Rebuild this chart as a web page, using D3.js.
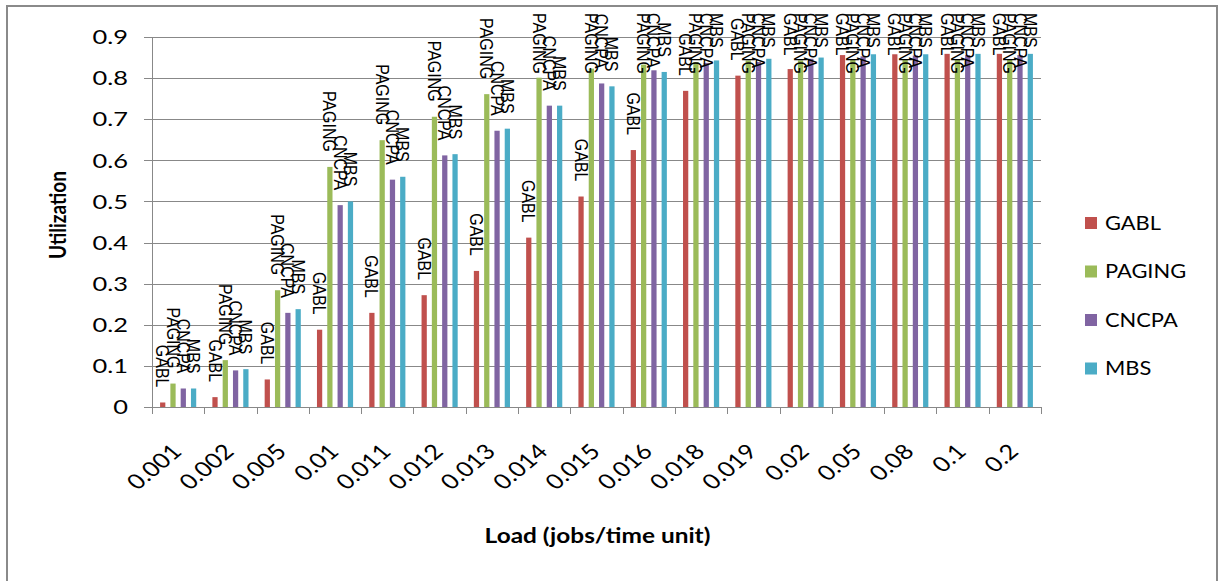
<!DOCTYPE html>
<html>
<head>
<meta charset="utf-8">
<script src="https://cdn.jsdelivr.net/npm/d3@7"></script>
<style>
  html, body { margin: 0; padding: 0; background: #fff; }
  svg { display: block; }
</style>
</head>
<body>
<svg id="chart" width="1219" height="581"></svg>
<script>
// Load levels (x categories)
const loads = ["0.001", "0.002", "0.005", "0.01", "0.011", "0.012", "0.013", "0.014", "0.015",
               "0.016", "0.018", "0.019", "0.02", "0.05", "0.08", "0.1", "0.2"];

// Utilization per scheduling strategy
const seriesNames = ["GABL", "PAGING", "CNCPA", "MBS"];
const gabl   = [0.011, 0.024, 0.067, 0.188, 0.229, 0.272, 0.331, 0.412, 0.512, 0.625, 0.769, 0.806, 0.822, 0.856, 0.858, 0.859, 0.859];
const paging = [0.057, 0.114, 0.284, 0.584, 0.649, 0.706, 0.761, 0.801, 0.823, 0.833, 0.839, 0.843, 0.843, 0.845, 0.845, 0.846, 0.846];
const cncpa  = [0.045, 0.089, 0.229, 0.491, 0.553, 0.612, 0.672, 0.733, 0.787, 0.819, 0.837, 0.839, 0.847, 0.853, 0.855, 0.856, 0.856];
const mbs    = [0.045, 0.092, 0.238, 0.500, 0.560, 0.615, 0.677, 0.733, 0.780, 0.815, 0.843, 0.847, 0.850, 0.858, 0.858, 0.859, 0.859];
const seriesColors = ["#C0504D", "#9BBB59", "#8064A2", "#4BACC6"];

// Y axis ticks
const yTicks = [0, 0.1, 0.2, 0.3, 0.4, 0.5, 0.6, 0.7, 0.8, 0.9];

const values = [gabl, paging, cncpa, mbs];
const rows = loads.map((load, i) => ({
  load,
  vals: seriesNames.map((s, k) => ({ series: s, value: values[k][i], color: seriesColors[k] }))
}));

const svg = d3.select("#chart");
const UI_FONT = "Lato, 'Open Sans', sans-serif";
const SX = 1.15; // horizontal stretch used for chart text

// outer frame
svg.append("rect")
  .attr("x", 7).attr("y", 6).attr("width", 1210).attr("height", 590)
  .attr("fill", "#fff").attr("stroke", "#8a8a8a").attr("stroke-width", 2);

const plot = { left: 152, right: 1041, top: 37, bottom: 407 };

const x = d3.scaleBand().domain(loads).range([plot.left, plot.right]).padding(0);
const xs = d3.scaleBand().domain(seriesNames).range([0, x.bandwidth()])
  .paddingInner(0.49).paddingOuter(0.785);
const y = d3.scaleLinear().domain([0, 0.9]).range([plot.bottom, plot.top]);

// gridlines
svg.append("g")
  .selectAll("line")
  .data(yTicks)
  .join("line")
  .attr("x1", plot.left - 8).attr("x2", plot.right)
  .attr("y1", d => Math.round(y(d)) + 0.5).attr("y2", d => Math.round(y(d)) + 0.5)
  .attr("stroke", "#888").attr("stroke-width", 1);

// y axis line
svg.append("line")
  .attr("x1", plot.left + 0.5).attr("x2", plot.left + 0.5)
  .attr("y1", plot.top).attr("y2", plot.bottom)
  .attr("stroke", "#888");

// x axis ticks at category boundaries
const boundaries = loads.map(d => x(d)).concat([plot.right]);
svg.append("g")
  .selectAll("line")
  .data(boundaries)
  .join("line")
  .attr("x1", d => Math.round(d) + 0.5).attr("x2", d => Math.round(d) + 0.5)
  .attr("y1", plot.bottom).attr("y2", plot.bottom + 7)
  .attr("stroke", "#888");

// y tick labels
svg.append("g")
  .selectAll("text")
  .data(yTicks)
  .join("text")
  .attr("transform", d => `translate(128,${y(d)}) scale(1.27,1)`)
  .attr("text-anchor", "end")
  .attr("dy", "0.36em")
  .attr("font-family", UI_FONT)
  .attr("font-size", 20)
  .attr("fill", "#000")
  .text(d => d === 0 ? "0" : d3.format(".1f")(d));

// bars
const groups = svg.append("g")
  .selectAll("g")
  .data(rows)
  .join("g")
  .attr("transform", d => `translate(${x(d.load)},0)`);

groups.selectAll("rect")
  .data(d => d.vals)
  .join("rect")
  .attr("x", d => xs(d.series))
  .attr("width", xs.bandwidth())
  .attr("y", d => y(d.value))
  .attr("height", d => y(0) - y(d.value))
  .attr("fill", d => d.color);

// rotated data labels showing the series name above each bar
const labelTop = 13;
const labels = groups.selectAll("text")
  .data(d => d.vals)
  .join("text")
  .attr("font-family", "'Liberation Sans', Arial, sans-serif")
  .attr("font-size", 16)
  .attr("fill", "#000")
  .attr("text-anchor", "end")
  .attr("dy", "0.35em")
  .text(d => d.series);

labels.each(function (d) {
  const len = this.getComputedTextLength();
  const cx = xs(d.series) + xs.bandwidth() / 2;
  const yEnd = Math.max(y(d.value) - 15, labelTop + len);
  d3.select(this).attr("transform", `translate(${cx},${yEnd}) scale(${SX},1) rotate(90)`);
});

// x tick labels
svg.append("g")
  .selectAll("text")
  .data(loads)
  .join("text")
  .attr("transform", d => `translate(${x(d) + x.bandwidth() / 2 + 5},453) scale(1.2,1) rotate(-45)`)
  .attr("text-anchor", "end")
  .attr("font-family", UI_FONT)
  .attr("font-size", 21)
  .attr("fill", "#000")
  .text(d => d);

// axis titles
svg.append("text")
  .attr("transform", `translate(${(plot.left + plot.right) / 2 + 1},543) scale(1.22,1)`)
  .attr("text-anchor", "middle")
  .attr("font-family", UI_FONT)
  .attr("font-weight", "bold")
  .attr("font-size", 20)
  .text("Load (jobs/time unit)");

svg.append("text")
  .attr("transform", `translate(66,215) scale(${SX},1) rotate(-90)`)
  .attr("text-anchor", "middle")
  .attr("font-family", UI_FONT)
  .attr("font-weight", "bold")
  .attr("font-size", 19)
  .text("Utilization");

// legend
const legend = svg.append("g")
  .selectAll("g")
  .data(seriesNames)
  .join("g")
  .attr("transform", (d, i) => `translate(1085,${223 + i * 48.5})`);

legend.append("rect")
  .attr("x", 0).attr("y", -6).attr("width", 12).attr("height", 12)
  .attr("fill", (d, i) => seriesColors[i]);

legend.append("text")
  .attr("transform", `translate(20,0) scale(${SX},1)`)
  .attr("dy", "0.36em")
  .attr("font-family", UI_FONT)
  .attr("font-size", 19)
  .attr("fill", "#000")
  .text(d => d);
</script>
</body>
</html>
